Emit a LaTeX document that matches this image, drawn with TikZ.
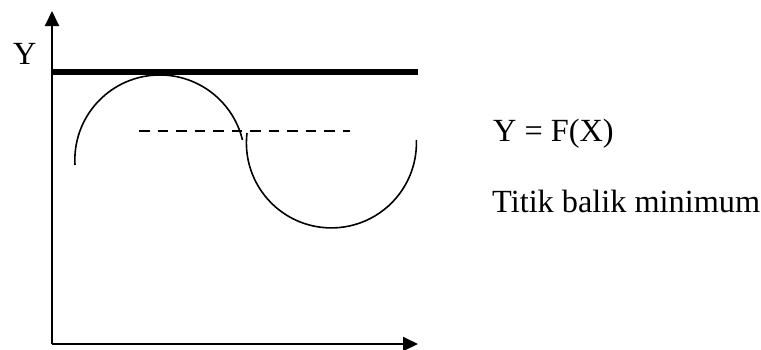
\documentclass[tikz,border=0pt]{standalone}
\usepackage{fontspec}
\setmainfont{Liberation Serif}
\usepackage{tikz}
\usetikzlibrary{arrows.meta}

\begin{document}
\begin{tikzpicture}[
  x=1pt, y=-1pt,
  lbl/.style={anchor=base west, inner sep=0pt, font=\fontsize{32.3}{38}\selectfont},
  axis/.style={-{Triangle[length=15pt,width=14pt]}, line width=2pt},
  curve/.style={line width=1.6pt},
  level/.style={line width=6pt},
  mid/.style={line width=2.2pt, dash pattern=on 10.5pt off 8pt}
]
\useasboundingbox (0,0) rectangle (761,349);
\coordinate (origin) at (52,344);
\coordinate (ytip) at (52,11);
\coordinate (xtip) at (418,344);
\coordinate (lvlA) at (52,72);
\coordinate (lvlB) at (418,72);
\coordinate (midA) at (139,131);
\coordinate (midB) at (350,131);
% axes
\draw[axis] (origin) -- (ytip);
\draw[axis] (origin) -- (xtip);
\draw[level] (lvlA) -- (lvlB);
\draw[mid] (midA) -- (midB);
% the two half waves
\draw[curve] (75,165) arc[start angle=176.6, end angle=346.4, radius=85];
\draw[curve] (247,133) arc[start angle=186.7, end angle=-2, radius=85];
% labels
\node[lbl] (ylab) at (13,64) {Y};
\node[lbl] (func) at (493,141) {Y = F(X)};
\node[lbl] (tbm) at (492,212) {Titik balik minimum};
\end{tikzpicture}
\end{document}
